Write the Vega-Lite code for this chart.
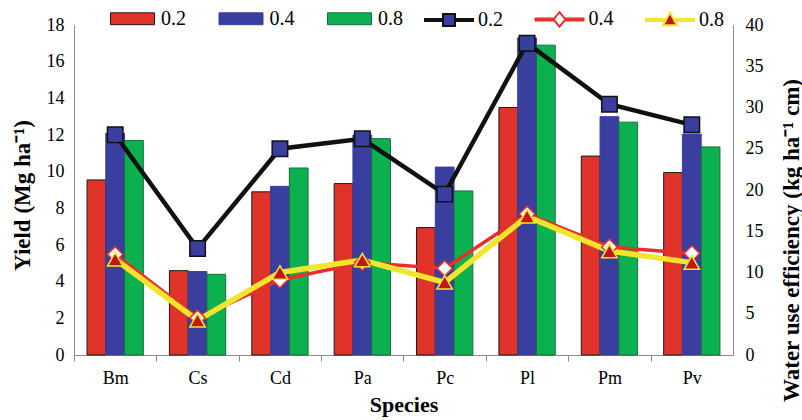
{
  "$schema": "https://vega.github.io/schema/vega-lite/v6.json",
  "width": 659,
  "height": 330,
  "autosize": {"type": "none"},
  "padding": {"left": 74, "top": 25, "right": 69, "bottom": 65},
  "background": "white",
  "config": {
    "font": "Liberation Serif",
    "view": {"stroke": null},
    "axis": {"labelFont": "Liberation Serif", "titleFont": "Liberation Serif", "labelColor": "#000", "titleColor": "#000", "grid": false, "domainColor": "#8c8c8c", "tickColor": "#8c8c8c", "labelFontSize": 18, "titleFontSize": 22, "titleFontWeight": "bold"},
    "legend": {"labelFont": "Liberation Serif", "labelFontSize": 20, "labelColor": "#000", "padding": 0, "title": null}
  },
  "datasets": {
    "yield": [
      {"Species": "Bm", "Irrigation": "0.2", "Yield": 9.55},
      {"Species": "Bm", "Irrigation": "0.4", "Yield": 12.1},
      {"Species": "Bm", "Irrigation": "0.8", "Yield": 11.7},
      {"Species": "Cs", "Irrigation": "0.2", "Yield": 4.6},
      {"Species": "Cs", "Irrigation": "0.4", "Yield": 4.55},
      {"Species": "Cs", "Irrigation": "0.8", "Yield": 4.4},
      {"Species": "Cd", "Irrigation": "0.2", "Yield": 8.9},
      {"Species": "Cd", "Irrigation": "0.4", "Yield": 9.2},
      {"Species": "Cd", "Irrigation": "0.8", "Yield": 10.2},
      {"Species": "Pa", "Irrigation": "0.2", "Yield": 9.35},
      {"Species": "Pa", "Irrigation": "0.4", "Yield": 12.0},
      {"Species": "Pa", "Irrigation": "0.8", "Yield": 11.8},
      {"Species": "Pc", "Irrigation": "0.2", "Yield": 6.95},
      {"Species": "Pc", "Irrigation": "0.4", "Yield": 10.25},
      {"Species": "Pc", "Irrigation": "0.8", "Yield": 8.95},
      {"Species": "Pl", "Irrigation": "0.2", "Yield": 13.5},
      {"Species": "Pl", "Irrigation": "0.4", "Yield": 17.3},
      {"Species": "Pl", "Irrigation": "0.8", "Yield": 16.9},
      {"Species": "Pm", "Irrigation": "0.2", "Yield": 10.85},
      {"Species": "Pm", "Irrigation": "0.4", "Yield": 13.0},
      {"Species": "Pm", "Irrigation": "0.8", "Yield": 12.7},
      {"Species": "Pv", "Irrigation": "0.2", "Yield": 9.95},
      {"Species": "Pv", "Irrigation": "0.4", "Yield": 12.05},
      {"Species": "Pv", "Irrigation": "0.8", "Yield": 11.35}
    ],
    "wue": [
      {"Species": "Bm", "Level": "0.2", "WUE": 26.7},
      {"Species": "Cs", "Level": "0.2", "WUE": 12.9},
      {"Species": "Cd", "Level": "0.2", "WUE": 25.0},
      {"Species": "Pa", "Level": "0.2", "WUE": 26.2},
      {"Species": "Pc", "Level": "0.2", "WUE": 19.5},
      {"Species": "Pl", "Level": "0.2", "WUE": 37.8},
      {"Species": "Pm", "Level": "0.2", "WUE": 30.4},
      {"Species": "Pv", "Level": "0.2", "WUE": 27.9},
      {"Species": "Bm", "Level": "0.4", "WUE": 12.2},
      {"Species": "Cs", "Level": "0.4", "WUE": 4.5},
      {"Species": "Cd", "Level": "0.4", "WUE": 9.1},
      {"Species": "Pa", "Level": "0.4", "WUE": 11.2},
      {"Species": "Pc", "Level": "0.4", "WUE": 10.5},
      {"Species": "Pl", "Level": "0.4", "WUE": 17.1},
      {"Species": "Pm", "Level": "0.4", "WUE": 13.1},
      {"Species": "Pv", "Level": "0.4", "WUE": 12.3},
      {"Species": "Bm", "Level": "0.8", "WUE": 11.6},
      {"Species": "Cs", "Level": "0.8", "WUE": 4.2},
      {"Species": "Cd", "Level": "0.8", "WUE": 10.0},
      {"Species": "Pa", "Level": "0.8", "WUE": 11.5},
      {"Species": "Pc", "Level": "0.8", "WUE": 8.8},
      {"Species": "Pl", "Level": "0.8", "WUE": 16.8},
      {"Species": "Pm", "Level": "0.8", "WUE": 12.6},
      {"Species": "Pv", "Level": "0.8", "WUE": 11.2}
    ]
  },
  "layer": [
    {
      "data": {"name": "yield"},
      "mark": {"type": "bar", "strokeWidth": 1},
      "encoding": {
        "x": {
          "field": "Species", "type": "nominal", "title": "Species",
          "scale": {"domain": ["Bm", "Cs", "Cd", "Pa", "Pc", "Pl", "Pm", "Pv"], "paddingInner": 0.3165, "paddingOuter": 0.15825},
          "axis": {"labelAngle": 0, "tickSize": 6, "labelPadding": 8, "bandPosition": 0.5, "tickOffset": -41.19, "labelOffset": 41.19, "titleY": 56, "titleBaseline": "alphabetic"}
        },
        "xOffset": {"field": "Irrigation", "type": "nominal", "scale": {"paddingInner": 0, "paddingOuter": 0}},
        "y": {
          "field": "Yield", "type": "quantitative", "title": "Yield (Mg ha⁻¹)",
          "scale": {"domain": [0, 18], "nice": false},
          "axis": {"values": [0, 2, 4, 6, 8, 10, 12, 14, 16, 18], "ticks": false, "labelPadding": 10, "titleX": -52, "titleY": 170, "titleAngle": -90, "titleAlign": "center", "titleBaseline": "middle", "titleFontSize": 23}
        },
        "fill": {
          "field": "Irrigation", "type": "nominal",
          "scale": {"range": ["#e0332a", "#3a3f9f", "#0bb04f"]},
          "legend": {
            "orient": "none", "direction": "horizontal", "columns": 3, "legendX": 36, "legendY": -29,
            "symbolType": "M-1,-0.27H1V0.27H-1Z", "symbolSize": 1936, "labelOffset": 6, "columnPadding": 30.5,
            "symbolStrokeWidth": 1, "symbolOpacity": 1,
            "encode": {"symbols": {"update": {
              "stroke": {"signal": "datum.value == '0.2' ? '#1a1a1a' : datum.value == '0.4' ? '#3a3f9f' : '#1d6b40'"}
            }}}
          }
        },
        "stroke": {"field": "Irrigation", "type": "nominal", "scale": {"range": ["#1a1a1a", "#3a3f9f", "#1d6b40"]}, "legend": null}
      }
    },
    {
      "data": {"name": "wue"},
      "encoding": {
        "x": {"field": "Species", "type": "nominal", "scale": {"domain": ["Bm", "Cs", "Cd", "Pa", "Pc", "Pl", "Pm", "Pv"]}},
        "y": {
          "field": "WUE", "type": "quantitative", "title": "Water use efficiency (kg ha⁻¹ cm)",
          "scale": {"domain": [0, 40], "nice": false},
          "axis": {"orient": "right", "values": [0, 5, 10, 15, 20, 25, 30, 35, 40], "ticks": false, "labelPadding": 12, "titleX": 58, "titleY": 215, "titleAngle": -90, "titleAlign": "center", "titleBaseline": "middle", "titleFontSize": 23}
        }
      },
      "layer": [
        {
          "mark": {"type": "line"},
          "encoding": {
            "order": {"value": null},
            "stroke": {
              "field": "Level", "type": "nominal",
              "scale": {"range": ["#111111", "#e8302a", "#f2e52c"]},
              "legend": {
                "orient": "none", "direction": "horizontal", "columns": 3, "legendX": 350, "legendY": -31,
                "symbolType": "M-1,-0.042H-0.25V0.042H-1ZM0.25,-0.042H1V0.042H0.25ZM-0.25,-0.25H0.25V0.25H-0.25Z",
                "symbolSize": 2304, "labelOffset": 4, "columnPadding": 28.5,
                "symbolStrokeWidth": 2, "symbolOpacity": 1,
                "encode": {"symbols": {"update": {
                  "shape": {"signal": "datum.value == '0.2' ? 'M-1,-0.042H-0.25V0.042H-1ZM0.25,-0.042H1V0.042H0.25ZM-0.25,-0.25H0.25V0.25H-0.25Z' : datum.value == '0.4' ? 'M-1,-0.042H-0.25V0.042H-1ZM0.25,-0.042H1V0.042H0.25ZM0,-0.3L0.25,0L0,0.3L-0.25,0Z' : 'M-1,-0.042H-0.18V0.042H-1ZM0.18,-0.042H1V0.042H0.18ZM0,-0.3L0.3,0.22L-0.3,0.22Z'"},
                  "fill": {"signal": "datum.value == '0.2' ? '#3a3f9f' : datum.value == '0.4' ? '#ffffff' : '#c0151b'"},
                  "stroke": {"signal": "datum.value == '0.2' ? '#111111' : datum.value == '0.4' ? '#e8302a' : '#f2e52c'"}
                }}}
              }
            },
            "strokeWidth": {"field": "Level", "type": "nominal", "scale": {"type": "ordinal", "domain": ["0.2", "0.4", "0.8"], "range": [4.5, 3.5, 5.5]}, "legend": null}
          }
        },
        {
          "mark": {"type": "point", "filled": true, "opacity": 1, "size": 240, "strokeWidth": 1.5},
          "encoding": {
            "stroke": {"field": "Level", "type": "nominal", "legend": null},
            "fill": {"field": "Level", "type": "nominal", "scale": {"range": ["#3a3f9f", "#ffffff", "#c0151b"]}, "legend": null},
            "shape": {"field": "Level", "type": "nominal", "scale": {"range": ["square", "diamond", "triangle-up"]}, "legend": null}
          }
        }
      ]
    }
  ],
  "resolve": {"scale": {"y": "independent", "fill": "independent", "stroke": "independent"}}
}
